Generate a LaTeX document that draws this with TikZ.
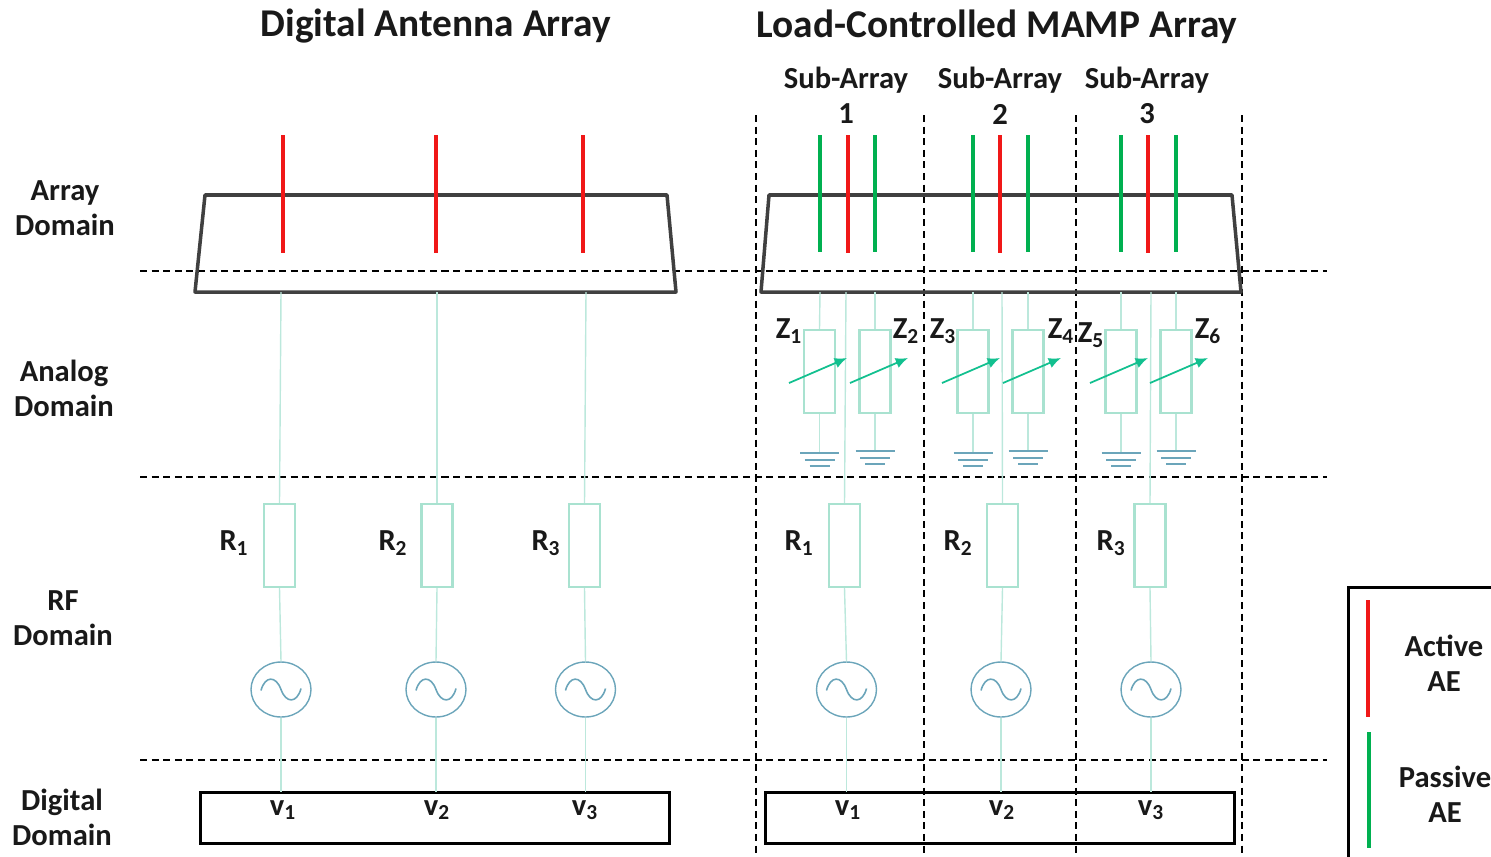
\documentclass[tikz,border=0pt]{standalone}
\usepackage{fontspec}
\setmainfont{Carlito}
\usetikzlibrary{shapes,arrows.meta}

\definecolor{mint}{HTML}{A9E2D0}
\definecolor{feedline}{HTML}{BCE8DC}
\definecolor{steel}{HTML}{6BA5BA}
\definecolor{tune}{HTML}{12C08F}
\definecolor{activeae}{HTML}{F01818}
\definecolor{passiveae}{HTML}{00B050}

\begin{document}
\begin{tikzpicture}[x=0.02cm,y=-0.02cm]
    \tikzstyle{label}=[font=\fontsize{17.4}{20}\selectfont\bfseries, align=center, inner sep=0pt, text=black!90]
    \tikzstyle{heading}=[font=\fontsize{22.4}{24}\selectfont\bfseries, inner sep=0pt, text=black!90]
    \tikzstyle{resistor}=[rectangle, draw=mint, line width=1.4pt, minimum width=0.62cm, minimum height=1.66cm, inner sep=0pt]
    \tikzstyle{source}=[ellipse, draw=steel, line width=0.8pt, minimum width=1.2cm, minimum height=1.1cm, inner sep=0pt]
    \tikzstyle{feed}=[draw=feedline, line width=0.8pt]
    \tikzstyle{element}=[line width=2.2pt]
    \tikzstyle{domainline}=[dash pattern=on 4pt off 2.6pt, line width=0.8pt]
    \tikzstyle{earth}=[draw=steel, line width=1.1pt]
    \tikzstyle{adjust}=[draw=tune, line width=1pt, -{Latex[length=7pt,width=6pt]}]

    \useasboundingbox (0,0) rectangle (1491,856);

    % domain and sub-array borders
    \coordinate (dl1) at (140,271);  \coordinate (dr1) at (1327,271);
    \coordinate (dl2) at (140,477);  \coordinate (dr2) at (1327,477);
    \coordinate (dl3) at (140,760);  \coordinate (dr3) at (1327,760);
    \foreach \i in {1,2,3}
        \draw[domainline] (dl\i) -- (dr\i);
    \foreach \i/\x in {1/756,2/924,3/1076,4/1242} {
        \coordinate (st\i) at (\x,115);
        \coordinate (sb\i) at (\x,860);
        \draw[domainline] (st\i) -- (sb\i);
    }

    % titles
    \node[heading] (titledig) at (436,26) {Digital Antenna Array};
    \node[heading] (titleload) at (997,27) {Load-Controlled MAMP Array};
    \foreach \i/\x in {1/846,2/1000,3/1147} {
        \node[label] (sub\i) at (\x,80) {Sub-Array};
        \node[label] (num\i) at (\x,114) {\i};
    }
    \node[label] (dom1) at (65,208) {Array\\[0pt]Domain};
    \node[label] (dom2) at (64,388) {Analog\\[0pt]Domain};
    \node[label] (dom3) at (63,618) {RF\\[0pt]Domain};
    \node[label] (dom4) at (62,817) {Digital\\[0pt]Domain};

    % platforms
    \draw[black!75, line width=2pt, line join=round] (205,195) -- (667,195) -- (676,292) -- (195,292) -- cycle;
    \draw[black!75, line width=2pt, line join=round] (769,195) -- (1232,195) -- (1241,292) -- (761,292) -- cycle;

    % digital boxes
    \node[rectangle, draw=black, line width=1.7pt, minimum width=9.4cm, minimum height=1.02cm] (digbox) at (435,817.5) {};
    \node[rectangle, draw=black, line width=1.7pt, minimum width=9.4cm, minimum height=1.02cm] (loadbox) at (1000,817.5) {};

    % active elements with their chains
    \foreach \n/\xa/\xf/\xr/\xs/\xv/\xl/\k in {a/283/281/279.5/281/283/234/1,b/436/437/437/436/437/393/2,c/583/586/584.5/585.5/585/546/3,d/848/846/844.5/846.5/848/799/1,e/1000/1002/1002.5/1001/1002/958/2,f/1148/1151/1150/1151/1151/1111/3} {
        \coordinate (top\n) at (\xa,135);
        \coordinate (foot\n) at (\xa,253);
        \draw[element, draw=activeae] (top\n) -- (foot\n);
        \coordinate (base\n) at (\xf,292);
        \node[resistor] (r\n) at (\xr,545.5) {};
        \node[source] (s\n) at (\xs,689.5) {};
        \coordinate (v\n) at (\xs,792);
        \draw[feed] (base\n) -- (r\n.north);
        \draw[feed] (r\n.south) -- (s\n.north);
        \draw[feed] (s\n.south) -- (v\n);
        \draw[draw=steel, line width=0.9pt, shift={(s\n.center)}] (-20,1) .. controls (-16,-14) and (-5,-14) .. (0,0) .. controls (5,14) and (16,14) .. (20,-1);
        \node[label] (rl\n) at (\xl,543) {R\textsubscript{\k}};
        \node[label] (vl\n) at (\xv,810) {v\textsubscript{\k}};
    }

    % passive elements with their loads
    \foreach \i/\x/\xa/\ax/\lx/\ly/\gy in {1/819.5/820/789/789/331/453,2/875/875/850/906/331/451,3/973/973/942/943/331/453,4/1028/1028/1003/1061/331/451,5/1121/1121/1090/1091/335/453,6/1176/1176/1150/1208/331/451} {
        \coordinate (ptop\i) at (\xa,135);
        \coordinate (pfoot\i) at (\xa,252);
        \draw[element, draw=passiveae] (ptop\i) -- (pfoot\i);
        \coordinate (pbase\i) at (\xa,292);
        \node[resistor] (z\i) at (\x,371.5) {};
        \coordinate (gnd\i) at (\x,\gy);
        \draw[feed] (pbase\i) -- (z\i.north);
        \draw[feed] (z\i.south) -- (gnd\i);
        \draw[earth] ([xshift=-19.5*0.02cm]gnd\i) -- ([xshift=19.5*0.02cm]gnd\i);
        \draw[earth] ([xshift=-15*0.02cm,yshift=-7*0.02cm]gnd\i) -- ([xshift=15*0.02cm,yshift=-7*0.02cm]gnd\i);
        \draw[earth] ([xshift=-10*0.02cm,yshift=-13*0.02cm]gnd\i) -- ([xshift=10*0.02cm,yshift=-13*0.02cm]gnd\i);
        \coordinate (tl\i) at (\ax,383);
        \coordinate (tr\i) at (\ax+58,358);
        \draw[adjust] (tl\i) -- (tr\i);
        \node[label] (zl\i) at (\lx,\ly) {Z\textsubscript{\i}};
    }

    % legend
    \coordinate (lega) at (1348,870);
    \coordinate (legb) at (1348,587);
    \coordinate (legc) at (1500,587);
    \draw[black, line width=1.7pt] (lega) -- (legb) -- (legc);
    \coordinate (acttop) at (1368,600);
    \coordinate (actbot) at (1368,717);
    \coordinate (pastop) at (1369,732);
    \coordinate (pasbot) at (1369,848);
    \draw[element, draw=activeae] (acttop) -- (actbot);
    \draw[element, draw=passiveae] (pastop) -- (pasbot);
    \node[label] (legact) at (1444,663) {Active\\[0pt]AE};
    \node[label] (legpas) at (1445,794) {Passive\\[0pt]AE};
\end{tikzpicture}
\end{document}
